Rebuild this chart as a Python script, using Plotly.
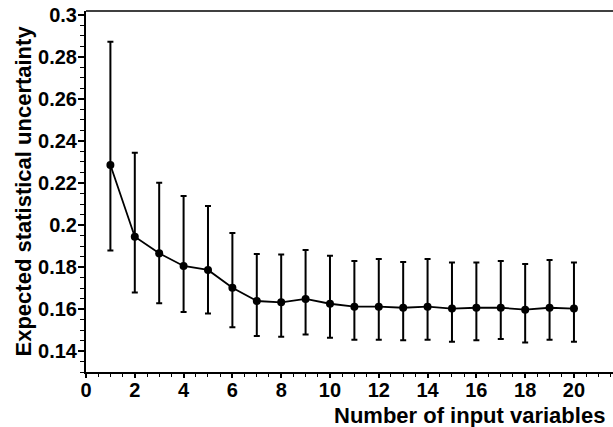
import plotly.graph_objects as go

n_vars = list(range(1, 21))
uncertainty = [0.2286, 0.1944, 0.1865, 0.1805, 0.1786, 0.1701, 0.1638, 0.1632, 0.1648, 0.1625,
               0.1611, 0.1611, 0.1606, 0.1611, 0.1602, 0.1606, 0.1606, 0.1597, 0.1606, 0.1602]
err_high = [0.2873, 0.2344, 0.2201, 0.2138, 0.2090, 0.1962, 0.1862, 0.1859, 0.1881, 0.1854,
            0.1829, 0.1838, 0.1824, 0.1838, 0.1822, 0.1822, 0.1829, 0.1814, 0.1833, 0.1822]
err_low = [0.1878, 0.1678, 0.1627, 0.1586, 0.1578, 0.1513, 0.1471, 0.1468, 0.1479, 0.1463,
           0.1454, 0.1454, 0.1451, 0.1454, 0.1444, 0.1451, 0.1457, 0.1440, 0.1454, 0.1444]

x_tickvals = [0, 2, 4, 6, 8, 10, 12, 14, 16, 18, 20]
x_ticktext = ["0", "2", "4", "6", "8", "10", "12", "14", "16", "18", "20"]
y_tickvals = [0.14, 0.16, 0.18, 0.2, 0.22, 0.24, 0.26, 0.28, 0.3]
y_ticktext = ["0.14", "0.16", "0.18", "0.2", "0.22", "0.24", "0.26", "0.28", "0.3"]

plus = [h - c for h, c in zip(err_high, uncertainty)]
minus = [c - l for c, l in zip(uncertainty, err_low)]

W, H = 613, 427
ML, MT, MB, MR = 86, 11, 55, 0
pw, ph = W - ML - MR, H - MT - MB

fig = go.Figure()
fig.add_trace(go.Scatter(
    x=n_vars, y=uncertainty, mode="lines+markers",
    line=dict(color="black", width=1.8),
    marker=dict(color="black", size=8, symbol="circle"),
    error_y=dict(type="data", symmetric=False, array=plus, arrayminus=minus,
                 color="black", thickness=2, width=3),
    showlegend=False,
    cliponaxis=False,
))

font = "Liberation Sans, Arial, sans-serif"
bold = lambda s: "<b>" + s + "</b>"
fig.update_layout(
    template="none",
    width=W, height=H,
    margin=dict(l=ML, r=MR, t=MT, b=MB, pad=0, autoexpand=False),
    plot_bgcolor="white", paper_bgcolor="white",
    font=dict(family=font, color="black"),
    xaxis=dict(range=[0, 21.6], showgrid=False, zeroline=False, automargin=False,
               showline=True, linecolor="black", linewidth=2, mirror=False,
               ticks="outside", ticklen=4, tickwidth=1.5, tickcolor="black",
               ticklabelstandoff=-5,
               tickvals=x_tickvals, ticktext=[bold(t) for t in x_ticktext],
               tickfont=dict(family=font, size=20, color="black"),
               minor=dict(dtick=0.5, tick0=0, ticks="outside", ticklen=3, tickwidth=1, tickcolor="black",
                          showgrid=False)),
    yaxis=dict(range=[0.13, 0.3019], showgrid=False, zeroline=False, automargin=False,
               showline=True, linecolor="black", linewidth=2, mirror=False,
               ticks="outside", ticklen=6, tickwidth=1.5, tickcolor="black",
               ticklabelstandoff=-3,
               tickvals=y_tickvals, ticktext=[bold(t) for t in y_ticktext],
               tickfont=dict(family=font, size=20, color="black"),
               minor=dict(dtick=0.005, tick0=0, ticks="outside", ticklen=4, tickwidth=1, tickcolor="black",
                          showgrid=False)),
)

fig.add_shape(type="line", xref="paper", yref="paper", x0=0, x1=1, y0=1, y1=1,
              line=dict(color="black", width=1.5))

fig.add_annotation(text=bold("Number of input variables"), xref="paper", yref="paper",
                   x=(607 - ML) / pw, y=(H - MB - 415) / ph, xanchor="right", yanchor="middle",
                   showarrow=False, font=dict(family=font, size=22, color="black"))
fig.add_annotation(text=bold("Expected statistical uncertainty"), xref="paper", yref="paper",
                   x=(23 - ML) / pw, y=(H - MB - 24) / ph, xanchor="center", yanchor="top",
                   textangle=-90, showarrow=False,
                   font=dict(family=font, size=22, color="black"))

fig.write_html("out.html", config={"displayModeBar": False},
               post_script="document.body.style.margin='0';document.body.style.padding='0';document.body.style.overflow='hidden';")
